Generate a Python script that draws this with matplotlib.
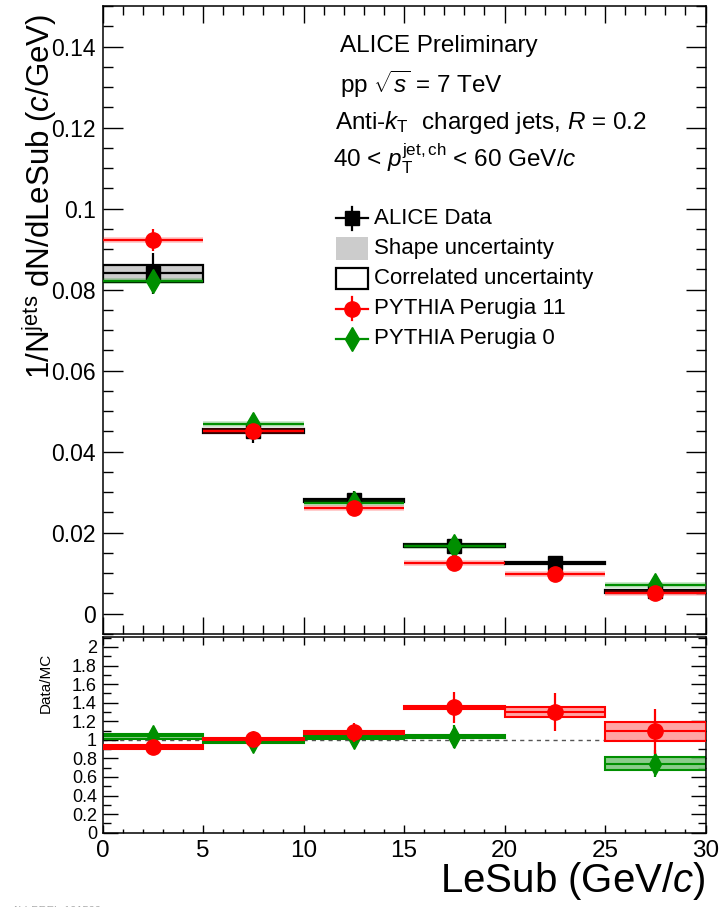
import numpy as np
import matplotlib
matplotlib.use('Agg')
import matplotlib.pyplot as plt
from matplotlib.patches import Rectangle
from matplotlib.lines import Line2D
from matplotlib.ticker import MultipleLocator, FuncFormatter

plt.rcParams['font.family'] = ['Liberation Sans', 'DejaVu Sans']
plt.rcParams['mathtext.fontset'] = 'custom'
plt.rcParams['mathtext.rm'] = 'Liberation Sans'
plt.rcParams['mathtext.it'] = 'Liberation Sans:italic'
plt.rcParams['mathtext.bf'] = 'Liberation Sans:bold'

# ---------------- data ----------------
bin_low = [0, 5, 10, 15, 20, 25]
bin_high = [5, 10, 15, 20, 25, 30]

data_val = [0.0840, 0.0452, 0.0280, 0.0168, 0.0125, 0.0055]
data_stat = [0.0050, 0.0030, 0.0022, 0.0012, 0.0011, 0.0010]
data_shape = [0.0019, 0.0004, 0.0003, 0.0003, 0.0003, 0.0003]
data_corr = [0.0021, 0.0005, 0.0004, 0.0003, 0.0003, 0.0003]

p11_val = [0.0923, 0.0451, 0.0260, 0.0126, 0.0097, 0.0050]
p11_stat = [0.0027, 0.0006, 0.0005, 0.0004, 0.0004, 0.0003]
p0_val = [0.0820, 0.0468, 0.0274, 0.0168, np.nan, 0.0072]
p0_stat = [0.0008, 0.0006, 0.0005, 0.0004, np.nan, 0.0003]

r11_val = [0.92, 1.01, 1.08, 1.35, 1.30, 1.09]
r11_stat = [0.03, 0.03, 0.10, 0.17, 0.20, 0.245]
r11_shape = [0.028, 0.018, 0.018, 0.025, 0.05, 0.105]
r11_corr = [0.022, 0.012, 0.012, 0.018, 0.05, 0.10]

r0_val = [1.04, 0.975, 1.025, 1.035, np.nan, 0.745]
r0_stat = [0.04, 0.03, 0.07, 0.12, np.nan, 0.15]
r0_shape = [0.032, 0.015, 0.015, 0.015, np.nan, 0.07]
r0_corr = [0.028, 0.012, 0.012, 0.012, np.nan, 0.065]

legend_labels = ['ALICE Data', 'Shape uncertainty', 'Correlated uncertainty',
                 'PYTHIA Perugia 11', 'PYTHIA Perugia 0']

RED = '#ff0000'
GREEN = '#008f00'
LRED = '#ff9a9a'
LGREEN = '#7fc77f'
GREY = '#cccccc'

bin_low = np.array(bin_low, float)
bin_high = np.array(bin_high, float)
centers = 0.5 * (bin_low + bin_high)
widths = bin_high - bin_low

fig = plt.figure(figsize=(7.2, 9.07), dpi=100)
ax = fig.add_axes([0.1424, 0.3010, 0.8375, 0.6924])
axr = fig.add_axes([0.1424, 0.0819, 0.8375, 0.2161])

fmt = FuncFormatter(lambda v, p: '%g' % round(v, 4))

# ---------------- main panel ----------------
for i in range(len(centers)):
    ax.add_patch(Rectangle((bin_low[i], data_val[i] - data_shape[i]), widths[i],
                           2 * data_shape[i], facecolor=GREY, edgecolor='none', zorder=2))
    ax.add_patch(Rectangle((bin_low[i], data_val[i] - data_corr[i]), widths[i],
                           2 * data_corr[i], facecolor='none', edgecolor='black', lw=1.6, zorder=3))
ax.hlines(data_val, bin_low, bin_high, colors='black', lw=1.6, zorder=3)
ax.errorbar(centers, data_val, yerr=data_stat, fmt='s', color='black', ms=10,
            elinewidth=1.6, capsize=0, zorder=4)

p0 = np.array(p0_val)
ok = ~np.isnan(p0)
ax.hlines(p0[ok], bin_low[ok], bin_high[ok], colors=GREEN, lw=4, alpha=0.25, zorder=4)
ax.hlines(p0[ok], bin_low[ok], bin_high[ok], colors=GREEN, lw=1.6, zorder=5)
ax.errorbar(centers[ok], p0[ok], yerr=np.array(p0_stat)[ok], fmt='d', color=GREEN, ms=12,
            elinewidth=1.6, capsize=0, zorder=5)

ax.hlines(p11_val, bin_low, bin_high, colors=RED, lw=4, alpha=0.25, zorder=6)
ax.hlines(p11_val, bin_low, bin_high, colors=RED, lw=1.6, zorder=6)
ax.errorbar(centers, p11_val, yerr=p11_stat, fmt='o', color=RED, ms=11,
            elinewidth=1.6, capsize=0, zorder=7)

ax.set_xlim(0, 30)
ax.set_ylim(-0.005, 0.15)
ax.xaxis.set_major_locator(MultipleLocator(5))
ax.xaxis.set_minor_locator(MultipleLocator(1))
ax.yaxis.set_major_locator(MultipleLocator(0.02))
ax.yaxis.set_minor_locator(MultipleLocator(0.005))
ax.yaxis.set_major_formatter(fmt)
ax.tick_params(which='both', direction='in', top=True, right=True, labelbottom=False, width=1.0)
ax.tick_params(axis='y', which='major', length=14.4, labelsize=16.5, pad=5)
ax.tick_params(axis='y', which='minor', length=7.2)
ax.tick_params(axis='x', which='major', length=12)
ax.tick_params(axis='x', which='minor', length=6.5)
for s in ax.spines.values():
    s.set_linewidth(1.1)

# text block
TFS = 17.5
ax.text(0.393, 0.936, 'ALICE Preliminary', transform=ax.transAxes, fontsize=TFS, va='center', ha='left')
ax.text(0.393, 0.876, r'pp $\sqrt{s}$ = 7 TeV', transform=ax.transAxes, fontsize=TFS, va='center', ha='left')
ax.text(0.385, 0.815, r'Anti-$k_{\rm T}$  charged jets, $R$ = 0.2', transform=ax.transAxes,
        fontsize=TFS, va='center', ha='left')
ax.text(0.382, 0.757, r'40 < $p_{\rm T}^{\rm jet,ch}$ < 60 GeV/$c$', transform=ax.transAxes,
        fontsize=TFS, va='center', ha='left')

# legend (manual)
ys = [0.662, 0.614, 0.566, 0.518, 0.470]
hx0, hx1, tx = 0.388, 0.440, 0.451
hm = 0.5 * (hx0 + hx1)
T = ax.transAxes
ax.add_line(Line2D([hx0, hx1], [ys[0], ys[0]], color='black', lw=1.6, transform=T))
ax.add_line(Line2D([hm], [ys[0]], color='black', marker='s', ms=10, transform=T))
ax.add_line(Line2D([hm, hm], [ys[0] - 0.018, ys[0] + 0.018], color='black', lw=1.6, transform=T))
ax.add_patch(Rectangle((hx0, ys[1] - 0.018), hx1 - hx0, 0.036, facecolor=GREY, edgecolor='none', transform=T))
ax.add_patch(Rectangle((hx0, ys[2] - 0.016), hx1 - hx0, 0.032, facecolor='white', edgecolor='black', lw=1.6, transform=T))
ax.add_line(Line2D([hx0, hx1], [ys[3], ys[3]], color=RED, lw=1.6, transform=T))
ax.add_line(Line2D([hm], [ys[3]], color=RED, marker='o', ms=11, transform=T))
ax.add_line(Line2D([hm, hm], [ys[3] - 0.018, ys[3] + 0.018], color=RED, lw=1.6, transform=T))
ax.add_line(Line2D([hx0, hx1], [ys[4], ys[4]], color=GREEN, lw=1.6, transform=T))
ax.add_line(Line2D([hm], [ys[4]], color=GREEN, marker='d', ms=12, transform=T))
for yy, lab in zip(ys, legend_labels):
    ax.text(tx, yy, lab, transform=T, fontsize=16, va='center', ha='left')

# ---------------- ratio panel ----------------
axr.axhline(1.0, color='#555555', lw=1.0, ls=(0, (3, 3)), zorder=1)

def ratio_series(vals, stat, shape, corr, col, lcol, marker, ms, z):
    vals = np.array(vals, float)
    for i in range(len(vals)):
        if np.isnan(vals[i]):
            continue
        axr.add_patch(Rectangle((bin_low[i], vals[i] - shape[i]), widths[i], 2 * shape[i],
                                facecolor=lcol, edgecolor='none', alpha=0.9, zorder=z))
        axr.add_patch(Rectangle((bin_low[i], vals[i] - corr[i]), widths[i], 2 * corr[i],
                                facecolor='none', edgecolor=col, lw=1.5, zorder=z + 0.1))
    ok = ~np.isnan(vals)
    axr.hlines(vals[ok], bin_low[ok], bin_high[ok], colors=col, lw=1.5, zorder=z + 0.2)
    axr.errorbar(centers[ok], vals[ok], yerr=np.array(stat, float)[ok], fmt=marker, color=col,
                 ms=ms, elinewidth=1.6, capsize=0, zorder=z + 0.3)

ratio_series(r0_val, r0_stat, r0_shape, r0_corr, GREEN, LGREEN, 'd', 11, 2)
ratio_series(r11_val, r11_stat, r11_shape, r11_corr, RED, LRED, 'o', 11, 3)

axr.set_xlim(0, 30)
axr.set_ylim(0, 2.11)
axr.xaxis.set_major_locator(MultipleLocator(5))
axr.xaxis.set_minor_locator(MultipleLocator(1))
axr.yaxis.set_major_locator(MultipleLocator(0.2))
axr.yaxis.set_minor_locator(MultipleLocator(0.1))
axr.yaxis.set_major_formatter(fmt)
axr.xaxis.set_major_formatter(fmt)
axr.tick_params(which='both', direction='in', top=True, right=True, width=1.0)
axr.tick_params(axis='y', which='major', length=10.8, labelsize=13, pad=4)
axr.tick_params(axis='y', which='minor', length=5.8)
axr.tick_params(axis='x', which='major', length=5.5, labelsize=17.5, pad=5)
axr.tick_params(axis='x', which='minor', length=3)
for s in axr.spines.values():
    s.set_linewidth(1.1)

# axis labels
fig.text(40 / 720, 1 - 196 / 907, r'1/N$^{\rm jets}$ dN/dLeSub ($c$/GeV)', rotation=90,
         ha='center', va='center', fontsize=22.5)
fig.text(46 / 720, 1 - 683 / 907, 'Data/MC', rotation=90, ha='center', va='center', fontsize=11)
fig.text(706 / 720, 1 - 881 / 907, r'LeSub (GeV/$c$)', ha='right', va='center', fontsize=29)
fig.text(12 / 720, -0.004, 'ALI-PREL-101500', color='#aaaaaa', fontsize=8, ha='left', va='center')

fig.savefig('out.png', dpi=100)
